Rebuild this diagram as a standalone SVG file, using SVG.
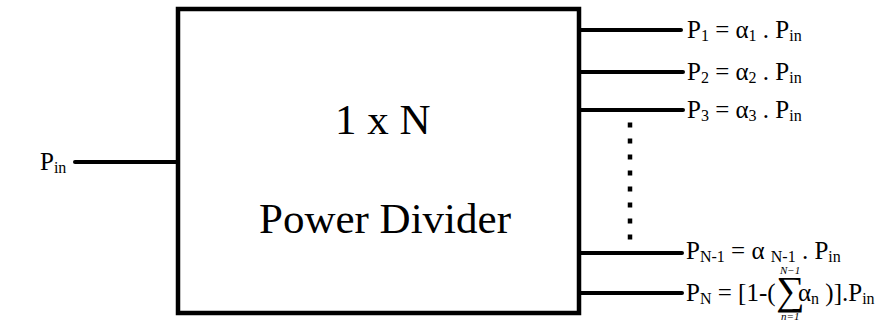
<svg xmlns="http://www.w3.org/2000/svg" width="889" height="321" viewBox="0 0 889 321">
  <style>
    text { font-family: "Liberation Serif", "Times New Roman", serif; fill: #000; }
    .lbl { font-size: 25px; }
    .sub { font-size: 16px; }
    .big { font-size: 43px; }
    .lim { font-size: 11px; font-style: italic; }
    .wire { stroke: #000; stroke-width: 4; stroke-linecap: round; fill: none; }
  </style>
  <rect width="889" height="321" fill="#fff"/>

  <!-- divider block -->
  <g id="divider">
    <rect x="178" y="9" width="401" height="304" fill="#fff" stroke="#000" stroke-width="4.5"/>
    <text class="big" x="335" y="134">1 x N</text>
    <text class="big" x="259" y="233">Power Divider</text>
  </g>

  <!-- ports: input and output wires, plus the elided-ports dots -->
  <g id="connectors">
    <line class="wire" x1="75" y1="162" x2="178" y2="162"/>
    <line class="wire" x1="579" y1="30" x2="681" y2="30"/>
    <line class="wire" x1="579" y1="72" x2="683" y2="72"/>
    <line class="wire" x1="579" y1="110" x2="683" y2="110"/>
    <line class="wire" x1="579" y1="253" x2="682" y2="253"/>
    <line class="wire" x1="579" y1="293" x2="682" y2="293"/>
    <line x1="630" y1="122.5" x2="630" y2="240" stroke="#000" stroke-width="4.5" stroke-dasharray="5 11"/>
  </g>

  <g id="input-label">
    <text class="lbl" x="40" y="170">P<tspan class="sub" dy="3">in</tspan></text>
  </g>

  <g id="out1">
    <text class="lbl" x="687" y="38">P<tspan class="sub" dy="3">1</tspan><tspan dy="-3"> = α</tspan><tspan class="sub" dy="3">1</tspan><tspan dy="-3"> . P</tspan><tspan class="sub" dy="3">in</tspan></text>
  </g>
  <g id="out2">
    <text class="lbl" x="687" y="80">P<tspan class="sub" dy="3">2</tspan><tspan dy="-3"> = α</tspan><tspan class="sub" dy="3">2</tspan><tspan dy="-3"> . P</tspan><tspan class="sub" dy="3">in</tspan></text>
  </g>
  <g id="out3">
    <text class="lbl" x="687" y="118">P<tspan class="sub" dy="3">3</tspan><tspan dy="-3"> = α</tspan><tspan class="sub" dy="3">3</tspan><tspan dy="-3"> . P</tspan><tspan class="sub" dy="3">in</tspan></text>
  </g>
  <g id="outN-1">
    <text class="lbl" x="686" y="259">P<tspan class="sub" dy="3">N-1</tspan><tspan dy="-3"> = α </tspan><tspan class="sub" dy="3">N-1</tspan><tspan dy="-3"> . P</tspan><tspan class="sub" dy="3">in</tspan></text>
  </g>
  <g id="outN">
    <text class="lbl" x="686" y="301">P<tspan class="sub" dy="3">N</tspan><tspan dy="-3"> = [1-(</tspan></text>
    <text x="776" y="304" style="font-size:40px">∑</text>
    <text class="lim" x="780" y="274">N−1</text>
    <text class="lim" x="781" y="320">n=1</text>
    <text class="lbl" x="798" y="301">α<tspan class="sub" dy="3">n</tspan><tspan dy="-3"> )].P</tspan><tspan class="sub" dy="3">in</tspan></text>
  </g>
</svg>
